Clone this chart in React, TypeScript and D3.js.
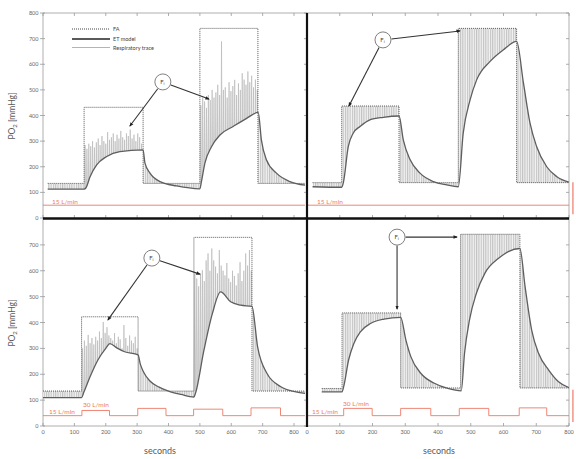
import React from "react";
import * as d3 from "d3";

type Pt = [number, number];

// ---------- ticks ----------
const X_TICKS = [0, 100, 200, 300, 400, 500, 600, 700, 800];
const X_TICK_LABELS = ["0", "100", "200", "300", "400", "500", "600", "700", "800"];
const Y_TICKS_TOP = [0, 100, 200, 300, 400, 500, 600, 700, 800];
const Y_TICK_LABELS_TOP = ["0", "100", "200", "300", "400", "500", "600", "700", "800"];
const Y_TICKS_BOTTOM = [0, 100, 200, 300, 400, 500, 600, 700];
const Y_TICK_LABELS_BOTTOM = ["0", "100", "200", "300", "400", "500", "600", "700"];

const LEGEND_LABELS = ["FA", "ET model", "Respiratory trace"];
const FLOW_LOW = "15 L/min";
const FLOW_HIGH = "30 L/min";
const X_TITLE = "seconds";

const BREATH = 6; // s between breaths

// ---------- top-left ----------
const FA_TL_T = [15, 131, 319, 500, 685, 835];
const FA_TL_V = [135, 432, 135, 740, 135];
const ET_TL: Pt[] = [[15, 113], [131, 113], [137, 118], [150, 161], [171, 207], [203, 240], [245, 259], [319, 266], [325, 214], [341, 175], [373, 142], [426, 125], [500, 114], [505, 142], [516, 214], [537, 278], [564, 324], [606, 357], [649, 389], [686, 412], [696, 305], [712, 227], [744, 175], [787, 142], [835, 128]];
const PEAK_TL_A_START = 134;
const PEAK_TL_A = [285, 270, 290, 280, 300, 275, 295, 310, 285, 320, 300, 290, 335, 305, 315, 330, 300, 325, 310, 340, 315, 305, 330, 320, 345, 310, 325, 300, 330, 315, 290];
const PEAK_TL_B_START = 503;
const PEAK_TL_B = [440, 470, 455, 430, 480, 460, 500, 470, 490, 520, 480, 689, 500, 510, 470, 530, 495, 515, 539, 480, 525, 500, 565, 540, 520, 572, 530, 555, 510, 540, 500];
const FLOW_TL_T = [0, 835];
const FLOW_TL_V = [50];

// ---------- top-right ----------
const FA_TR_T = [17, 106, 281, 462, 640, 800];
const FA_TR_V = [138, 437, 138, 740, 138];
const ET_TR: Pt[] = [[17, 122], [106, 120], [111, 138], [126, 279], [141, 331], [162, 357], [192, 383], [233, 393], [281, 398], [294, 305], [315, 227], [345, 175], [386, 142], [427, 129], [462, 122], [477, 331], [498, 461], [518, 539], [559, 611], [599, 656], [640, 689], [661, 526], [681, 370], [701, 279], [732, 200], [763, 161], [800, 140]];
const FLOW_TR_T = [0, 800];
const FLOW_TR_V = [50];

// ---------- bottom-left ----------
const FA_BL_T = [0, 123, 303, 481, 666, 835];
const FA_BL_V = [135, 422, 135, 729, 135];
const ET_BL: Pt[] = [[0, 110], [123, 110], [130, 130], [150, 190], [175, 255], [200, 300], [213, 318], [235, 302], [260, 287], [303, 275], [310, 240], [320, 210], [340, 175], [370, 150], [400, 135], [440, 122], [481, 112], [486, 127], [513, 293], [540, 435], [566, 518], [598, 480], [630, 467], [666, 462], [684, 306], [714, 203], [758, 152], [806, 132], [835, 126]];
const PEAK_BL_A_START = 126;
const PEAK_BL_A = [300, 330, 310, 352, 320, 340, 315, 345, 330, 365, 340, 402, 360, 382, 350, 340, 330, 359, 320, 345, 335, 300, 390, 340, 310, 350, 330, 320, 345, 300];
const PEAK_BL_B_START = 484;
const PEAK_BL_B = [590, 570, 540, 590, 602, 560, 640, 667, 600, 686, 640, 616, 590, 680, 620, 600, 582, 630, 570, 556, 600, 580, 543, 590, 633, 560, 600, 667, 620, 680, 600];
const FLOW_BL_T = [0, 124, 212, 302, 392, 480, 573, 663, 757, 835];
const FLOW_BL_V = [40, 60, 40, 68, 40, 65, 40, 70, 40];

// ---------- bottom-right ----------
const FA_BR_T = [45, 107, 286, 469, 650, 800];
const FA_BR_V = [145, 437, 147, 741, 147];
const ET_BR: Pt[] = [[45, 132], [107, 132], [112, 152], [127, 255], [143, 319], [163, 364], [194, 396], [235, 413], [286, 420], [302, 332], [317, 268], [348, 203], [389, 165], [430, 145], [471, 136], [481, 281], [496, 409], [517, 512], [543, 590], [584, 647], [650, 686], [666, 538], [686, 371], [707, 281], [738, 216], [768, 171], [800, 148]];
const FLOW_BR_T = [0, 112, 199, 286, 378, 465, 555, 648, 732, 800];
const FLOW_BR_V = [40, 68, 40, 68, 40, 68, 40, 70, 40];

// red edge marks at far right [t, vLow, vHigh]
const RED_EDGE = [812, 15, 140];

// annotations (data coords): circle [t, v], arrow ends [[t, v], [t, v]]
const FI_TL = { c: [382, 531], ends: [[277, 359], [529, 464]] };
const FI_TR = { c: [232, 695], ends: [[128, 437], [467, 730]] };
const FI_BL = { c: [347, 649], ends: [[207, 410], [500, 587]] };
const FI_BR = { c: [275, 730], ends: [[275, 452], [458, 730]] };

const xL = d3.scaleLinear().domain([0, 800]).range([43, 294]);
const xR = d3.scaleLinear().domain([0, 800]).range([307, 569]);
const yT = d3.scaleLinear().domain([0, 800]).range([218, 13]);
const yB = d3.scaleLinear().domain([0, 800]).range([426, 219]);

const FONT = "Lato, 'Open Sans', sans-serif";
const RED = "#ec7a66";
const AXIS = "#999";
const TXT = "#5a5a5a";

function stepPts(T: number[], V: number[]): Pt[] {
  const pts: Pt[] = [];
  V.forEach((v, i) => {
    pts.push([T[i], v], [T[i + 1], v]);
  });
  return pts;
}

type PanelProps = {
  id: string;
  x: d3.ScaleLinear<number, number>;
  y: d3.ScaleLinear<number, number>;
  faT: number[];
  faV: number[];
  et: Pt[];
  peaks: { start: number; values: number[] }[];
  box: [number, number, number, number];
  noisy: boolean;
};

function Panel({ id, x, y, faT, faV, et, peaks, box, noisy }: PanelProps) {
  const line = d3.line<Pt>().x((d) => x(d[0])).y((d) => y(d[1]));
  const etLine = d3.line<Pt>().x((d) => x(d[0])).y((d) => y(d[1])).curve(d3.curveMonotoneX);
  const etArea = d3.area<Pt>().x((d) => x(d[0])).y0(y(0)).y1((d) => y(d[1])).curve(d3.curveMonotoneX);
  const aboveArea = d3.area<Pt>().x((d) => x(d[0])).y0(y(900)).y1((d) => y(d[1])).curve(d3.curveMonotoneX);
  const fa = stepPts(faT, faV);
  const faClosed: Pt[] = [[faT[0], 0], ...fa, [faT[faT.length - 1], 0]];
  const hatchD = (etArea(et) || "") + (line(faClosed) || "") + "Z";

  const intervals: [number, number][] = [];
  if (noisy) {
    for (let i = 0; i < faV.length; i += 2) intervals.push([faT[i], faT[i + 1]]);
  } else intervals.push([faT[0], faT[faT.length - 1]]);

  const zig: Pt[][] = peaks.map((p) => {
    const pts: Pt[] = [[p.start - 3, 0]];
    p.values.forEach((v, i) => {
      const t = p.start + i * BREATH;
      pts.push([t, v], [t + 3, 0]);
    });
    return pts;
  });

  return (
    <g>
      <defs>
        <clipPath id={`${id}-panel`}>
          <rect x={box[0]} y={box[1]} width={box[2] - box[0]} height={box[3] - box[1]} />
        </clipPath>
        <clipPath id={`${id}-hatch`}>
          {intervals.map((iv, i) => (
            <rect key={i} x={x(iv[0])} y={0} width={x(iv[1]) - x(iv[0])} height={459} />
          ))}
        </clipPath>
        <clipPath id={`${id}-above`}>
          <path d={aboveArea(et) || ""} />
        </clipPath>
      </defs>
      <g clipPath={`url(#${id}-panel)`}>
        <g clipPath={`url(#${id}-hatch)`}>
          <path d={hatchD} fill="url(#hatch)" fillRule="evenodd" stroke="none" />
        </g>
        <g clipPath={`url(#${id}-above)`}>
          {zig.map((z, i) => (
            <path key={i} d={line(z) || ""} fill="#e2e2e2" stroke="#b4b4b4" strokeWidth={0.6} />
          ))}
        </g>
        <path d={line(fa) || ""} fill="none" stroke="#4a4a4a" strokeWidth={0.9} strokeDasharray="1 1" />
        <path d={etLine(et) || ""} fill="none" stroke="#5e5e5e" strokeWidth={1.3} />
      </g>
    </g>
  );
}

function Flow({ x, y, T, V, clip }: { x: any; y: any; T: number[]; V: number[]; clip: string }) {
  const line = d3.line<Pt>().x((d) => x(d[0])).y((d) => y(d[1]));
  return <path d={line(stepPts(T, V)) || ""} fill="none" stroke={RED} strokeWidth={0.9} clipPath={clip} />;
}

function Fi({ x, y, a }: { x: any; y: any; a: { c: number[]; ends: number[][] } }) {
  const cx = x(a.c[0]);
  const cy = y(a.c[1]);
  const r = 8;
  return (
    <g>
      {a.ends.map((e, i) => {
        const ex = x(e[0]);
        const ey = y(e[1]);
        const dx = ex - cx;
        const dy = ey - cy;
        const L = Math.hypot(dx, dy);
        return (
          <line key={i} x1={cx + (dx / L) * (r + 0.5)} y1={cy + (dy / L) * (r + 0.5)} x2={ex} y2={ey}
            stroke="#333" strokeWidth={1.1} markerEnd="url(#arrow)" />
        );
      })}
      <circle cx={cx} cy={cy} r={r} fill="white" stroke="#808080" strokeWidth={1} />
      <text x={cx - 0.5} y={cy + 2} textAnchor="middle" fontSize={6} fill="#444" fontFamily={FONT}>
        F<tspan fontSize={4} dy={1}>i</tspan>
      </text>
    </g>
  );
}

export default function App() {
  const yLabel = (cy: number, key: string) => (
    <text key={key} transform={`translate(15,${cy}) rotate(-90)`} textAnchor="middle" fontSize={8.5} fill={TXT} fontFamily={FONT}>
      PO<tspan fontSize={6} dy={2}>2</tspan>
      <tspan dy={-2}> [mmHg]</tspan>
    </text>
  );
  return (
    <svg width={576} height={459} style={{ position: "absolute", left: 0, top: 0, background: "white" }} fontFamily={FONT}>
      <defs>
        <pattern id="hatch" width={2.3} height={10} patternUnits="userSpaceOnUse">
          <rect width={2.3} height={10} fill="#f1f1f1" />
          <line x1={0.6} y1={0} x2={0.6} y2={10} stroke="#b2b2b2" strokeWidth={0.8} />
        </pattern>
        <marker id="arrow" viewBox="0 0 10 10" refX={8} refY={5} markerWidth={4} markerHeight={4} orient="auto">
          <path d="M0,1 L10,5 L0,9 z" fill="#222" />
        </marker>
        <clipPath id="clipL"><rect x={43} y={0} width={263} height={459} /></clipPath>
        <clipPath id="clipR"><rect x={308} y={0} width={262} height={459} /></clipPath>
      </defs>

      {/* frames & axes */}
      <g stroke={AXIS} strokeWidth={0.8} fill="none">
        <line x1={43} y1={13} x2={43} y2={426} />
        <line x1={43} y1={13} x2={569} y2={13} />
        <line x1={569} y1={13} x2={569} y2={426} />
        <line x1={43} y1={426} x2={569} y2={426} />
        {X_TICKS.map((t) => (
          <g key={`xt${t}`}>
            <line x1={xL(t)} y1={13} x2={xL(t)} y2={16} />
            <line x1={xR(t)} y1={13} x2={xR(t)} y2={16} />
            <line x1={xL(t)} y1={215} x2={xL(t)} y2={218} />
            <line x1={xR(t)} y1={215} x2={xR(t)} y2={218} />
            <line x1={xL(t)} y1={426} x2={xL(t)} y2={423} />
            <line x1={xR(t)} y1={426} x2={xR(t)} y2={423} />
          </g>
        ))}
        {Y_TICKS_TOP.map((v) => (
          <g key={`yt${v}`}>
            <line x1={40} y1={yT(v)} x2={45} y2={yT(v)} />
            <line x1={566} y1={yT(v)} x2={569} y2={yT(v)} />
            <line x1={304} y1={yT(v)} x2={307} y2={yT(v)} />
          </g>
        ))}
        {Y_TICKS_BOTTOM.map((v) => (
          <g key={`yb${v}`}>
            <line x1={40} y1={yB(v)} x2={45} y2={yB(v)} />
            <line x1={566} y1={yB(v)} x2={569} y2={yB(v)} />
            <line x1={304} y1={yB(v)} x2={307} y2={yB(v)} />
          </g>
        ))}
      </g>

      {/* tick labels */}
      <g fontSize={5.5} fill="#666">
        {Y_TICKS_TOP.map((v, i) => (
          <text key={`lt${v}`} x={38.5} y={yT(v) + 2} textAnchor="end">{Y_TICK_LABELS_TOP[i]}</text>
        ))}
        {Y_TICKS_BOTTOM.map((v, i) => (
          <text key={`lb${v}`} x={38.5} y={yB(v) + 2} textAnchor="end">{Y_TICK_LABELS_BOTTOM[i]}</text>
        ))}
        {X_TICKS.map((t, i) => (
          <text key={`xl${t}`} x={xL(t)} y={434} textAnchor="middle">{X_TICK_LABELS[i]}</text>
        ))}
        {X_TICKS.map((t, i) => (
          <text key={`xr${t}`} x={xR(t)} y={434} textAnchor="middle">{X_TICK_LABELS[i]}</text>
        ))}
      </g>

      {/* flows */}
      <Flow x={xL} y={yT} T={FLOW_TL_T} V={FLOW_TL_V} clip="url(#clipL)" />
      <Flow x={xR} y={yT} T={FLOW_TR_T} V={FLOW_TR_V} clip="url(#clipR)" />
      <Flow x={xL} y={yB} T={FLOW_BL_T} V={FLOW_BL_V} clip="url(#clipL)" />
      <Flow x={xR} y={yB} T={FLOW_BR_T} V={FLOW_BR_V} clip="url(#clipR)" />
      <line x1={xR(RED_EDGE[0])} x2={xR(RED_EDGE[0])} y1={yT(RED_EDGE[1])} y2={yT(RED_EDGE[2])} stroke={RED} strokeWidth={1.2} />
      <line x1={xR(RED_EDGE[0])} x2={xR(RED_EDGE[0])} y1={yB(RED_EDGE[1])} y2={yB(RED_EDGE[2])} stroke={RED} strokeWidth={1.2} />
      <g fontSize={6.5} fill={RED}>
        <text x={52} y={203.5}>{FLOW_LOW}</text>
        <text x={317} y={203.5}>{FLOW_LOW}</text>
        <text x={49} y={413.8}>{FLOW_LOW}</text>
        <text x={83} y={406.5}>{FLOW_HIGH}</text>
        <text x={312} y={413.8}>{FLOW_LOW}</text>
        <text x={343} y={406}>{FLOW_HIGH}</text>
      </g>

      {/* panels */}
      <Panel id="tl" x={xL} y={yT} faT={FA_TL_T} faV={FA_TL_V} et={ET_TL} noisy
        peaks={[{ start: PEAK_TL_A_START, values: PEAK_TL_A }, { start: PEAK_TL_B_START, values: PEAK_TL_B }]}
        box={[43, 13, 306, 218]} />
      <Panel id="tr" x={xR} y={yT} faT={FA_TR_T} faV={FA_TR_V} et={ET_TR} noisy={false} peaks={[]}
        box={[308, 13, 569, 218]} />
      <Panel id="bl" x={xL} y={yB} faT={FA_BL_T} faV={FA_BL_V} et={ET_BL} noisy
        peaks={[{ start: PEAK_BL_A_START, values: PEAK_BL_A }, { start: PEAK_BL_B_START, values: PEAK_BL_B }]}
        box={[43, 219, 306, 426]} />
      <Panel id="br" x={xR} y={yB} faT={FA_BR_T} faV={FA_BR_V} et={ET_BR} noisy={false} peaks={[]}
        box={[308, 219, 569, 426]} />

      {/* thick separators */}
      <line x1={43} y1={218.5} x2={569} y2={218.5} stroke="#111" strokeWidth={2.5} />
      <line x1={307} y1={13} x2={307} y2={427} stroke="#111" strokeWidth={2.2} />

      {/* legend */}
      <g>
        <line x1={72} x2={110} y1={29} y2={29} stroke="#444" strokeWidth={1} strokeDasharray="1 1" />
        <line x1={72} x2={110} y1={39} y2={39} stroke="#5a5a5a" strokeWidth={1.8} />
        <line x1={72} x2={110} y1={47.5} y2={47.5} stroke="#b4b4b4" strokeWidth={1.2} />
        {LEGEND_LABELS.map((l, i) => (
          <text key={l} x={113} y={[31, 41, 49.5][i]} fontSize={5.5} fill="#444">{l}</text>
        ))}
      </g>

      {/* annotations */}
      <Fi x={xL} y={yT} a={FI_TL} />
      <Fi x={xR} y={yT} a={FI_TR} />
      <Fi x={xL} y={yB} a={FI_BL} />
      <Fi x={xR} y={yB} a={FI_BR} />

      {/* axis titles */}
      {yLabel(116, "yl1")}
      {yLabel(323, "yl2")}
      <text x={160} y={454} textAnchor="middle" fontSize={9} fill={TXT}>{X_TITLE}</text>
      <text x={439} y={454} textAnchor="middle" fontSize={9} fill={TXT}>{X_TITLE}</text>
    </svg>
  );
}
